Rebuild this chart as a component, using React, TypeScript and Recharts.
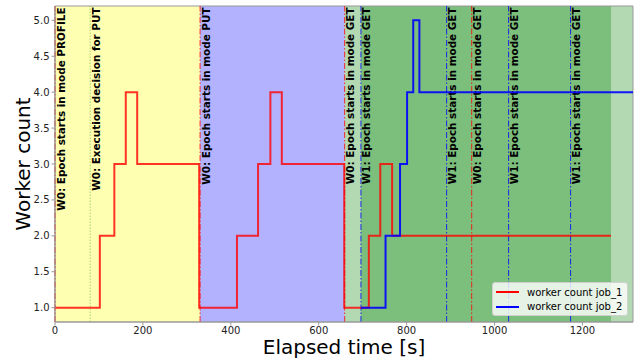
import { LineChart, Line, XAxis, YAxis, ReferenceArea, ReferenceLine } from 'recharts';

const job1Times = [0, 102, 135, 161, 187, 328, 414, 462, 490, 516, 658, 714, 740, 767, 1265];
const job1Workers = [1, 2, 3, 4, 3, 1, 2, 3, 4, 3, 1, 2, 3, 2, 2];
const job2Times = [696, 752, 785, 801, 815, 829, 1315];
const job2Workers = [1, 2, 3, 4, 5, 4, 4];

const spanStarts = [0, 330, 659, 696];
const spanEnds = [330, 659, 1265, 1315];
const spanColors = ['#ffff00', '#0000ff', '#008000', '#008000'];

const eventTimes = [0, 80, 330, 659, 696, 891, 948, 1032, 1173];
const eventWorkers = ['W0', 'W0', 'W0', 'W0', 'W1', 'W1', 'W0', 'W1', 'W1'];
const eventTexts = [
  'Epoch starts in mode PROFILE',
  'Execution decision for PUT',
  'Epoch starts in mode PUT',
  'Epoch starts in mode GET',
  'Epoch starts in mode GET',
  'Epoch starts in mode GET',
  'Epoch starts in mode GET',
  'Epoch starts in mode GET',
  'Epoch starts in mode GET',
];

const xTicks = [0, 200, 400, 600, 800, 1000, 1200];
const yTicks = [1, 1.5, 2, 2.5, 3, 3.5, 4, 4.5, 5];

const X_MAX = 1315;
const FONT = '"DejaVu Sans", sans-serif';
const SPINE = '#999999';

const job1 = job1Times.map((t, i) => ({ t, w: job1Workers[i] }));
const job2 = job2Times.map((t, i) => ({ t, w: job2Workers[i] }));

// colour and dash of each event line, by worker / kind
function eventStyle(i: number) {
  if (eventTexts[i].startsWith('Execution')) {
    return { stroke: '#008000', opacity: 0.35, dash: '1.5 1.5' };
  }
  if (eventWorkers[i] === 'W1') return { stroke: '#0000ff', opacity: 0.8, dash: '6 2 1.5 2' };
  return { stroke: '#ff0000', opacity: 0.8, dash: '6 2 1.5 2' };
}

function EventLabel(props: any) {
  const vb = props.viewBox || {};
  const x = vb.x + 9.5;
  const y = vb.y + 1.5;
  return (
    <text
      x={x}
      y={y}
      transform={`rotate(-90 ${x} ${y})`}
      textAnchor="end"
      fontFamily={FONT}
      fontWeight="bold"
      fontSize={10.4}
      fill="#000"
    >
      {props.text}
    </text>
  );
}

function YLabel() {
  return (
    <text
      x={30}
      y={164}
      transform="rotate(-90 30 164)"
      textAnchor="middle"
      fontFamily={FONT}
      fontSize={20}
      fill="#000"
    >
      Worker count
    </text>
  );
}

function LegendBox() {
  const rows = [
    { label: 'worker count job_1', color: '#ff0000' },
    { label: 'worker count job_2', color: '#0000ff' },
  ];
  return (
    <div
      style={{
        position: 'absolute',
        left: 492,
        top: 282,
        width: 136,
        height: 34,
        boxSizing: 'border-box',
        background: 'rgba(255,255,255,0.8)',
        border: '1px solid #d0d0d0',
        borderRadius: 3,
        padding: '2px 0 0 3px',
        fontFamily: FONT,
        fontSize: 10,
        color: '#000',
      }}
    >
      {rows.map((r) => (
        <div key={r.label} style={{ display: 'flex', alignItems: 'center', height: 14.5 }}>
          <svg width={31} height={14}>
            <line x1={0} y1={7} x2={23} y2={7} stroke={r.color} strokeWidth={2} />
          </svg>
          <span style={{ whiteSpace: 'nowrap' }}>{r.label}</span>
        </div>
      ))}
    </div>
  );
}

export default function App() {
  return (
    <div style={{ position: 'absolute', left: 0, top: 0, width: 635, height: 360 }}>
      <LineChart width={635} height={360} margin={{ top: 6, right: 2, bottom: 0, left: 0 }}>
        {spanStarts.map((s, i) => (
          <ReferenceArea
            key={'span' + i}
            x1={s}
            x2={spanEnds[i]}
            y1={0.8}
            y2={5.2}
            fill={spanColors[i]}
            fillOpacity={0.3}
            stroke="none"
            ifOverflow="hidden"
          />
        ))}
        <XAxis
          type="number"
          dataKey="t"
          domain={[0, X_MAX]}
          ticks={xTicks}
          allowDataOverflow
          height={38}
          tickSize={3.5}
          tickMargin={1.5}
          stroke={SPINE}
          tick={{ fontFamily: FONT, fontSize: 10, fill: '#222' }}
          label={{
            value: 'Elapsed time [s]',
            position: 'insideBottom',
            offset: 6,
            style: { fontFamily: FONT, fontSize: 20, fill: '#000' },
          }}
        />
        <YAxis
          type="number"
          domain={[0.8, 5.2]}
          ticks={yTicks}
          allowDataOverflow
          width={55}
          tickSize={3.5}
          tickMargin={2}
          stroke={SPINE}
          tickFormatter={(v: number) => v.toFixed(1)}
          tick={{ fontFamily: FONT, fontSize: 10, fill: '#222' }}
          label={<YLabel />}
        />
        {eventTimes.map((t, i) => {
          const st = eventStyle(i);
          return (
            <ReferenceLine
              key={'ev' + i}
              x={t}
              stroke={st.stroke}
              strokeOpacity={st.opacity}
              strokeWidth={1}
              strokeDasharray={st.dash}
              label={<EventLabel text={`${eventWorkers[i]}: ${eventTexts[i]}`} />}
            />
          );
        })}
        <Line
          data={job1}
          dataKey="w"
          type="stepAfter"
          stroke="#ff0000"
          strokeOpacity={0.8}
          strokeWidth={2}
          dot={false}
          activeDot={false}
          isAnimationActive={false}
          name="worker count job_1"
        />
        <Line
          data={job2}
          dataKey="w"
          type="stepAfter"
          stroke="#0000ff"
          strokeOpacity={0.9}
          strokeWidth={2}
          dot={false}
          activeDot={false}
          isAnimationActive={false}
          name="worker count job_2"
        />
        <ReferenceArea
          x1={0}
          x2={X_MAX}
          y1={0.8}
          y2={5.2}
          fill="none"
          stroke={SPINE}
          strokeWidth={1}
        />
      </LineChart>
      <LegendBox />
    </div>
  );
}
